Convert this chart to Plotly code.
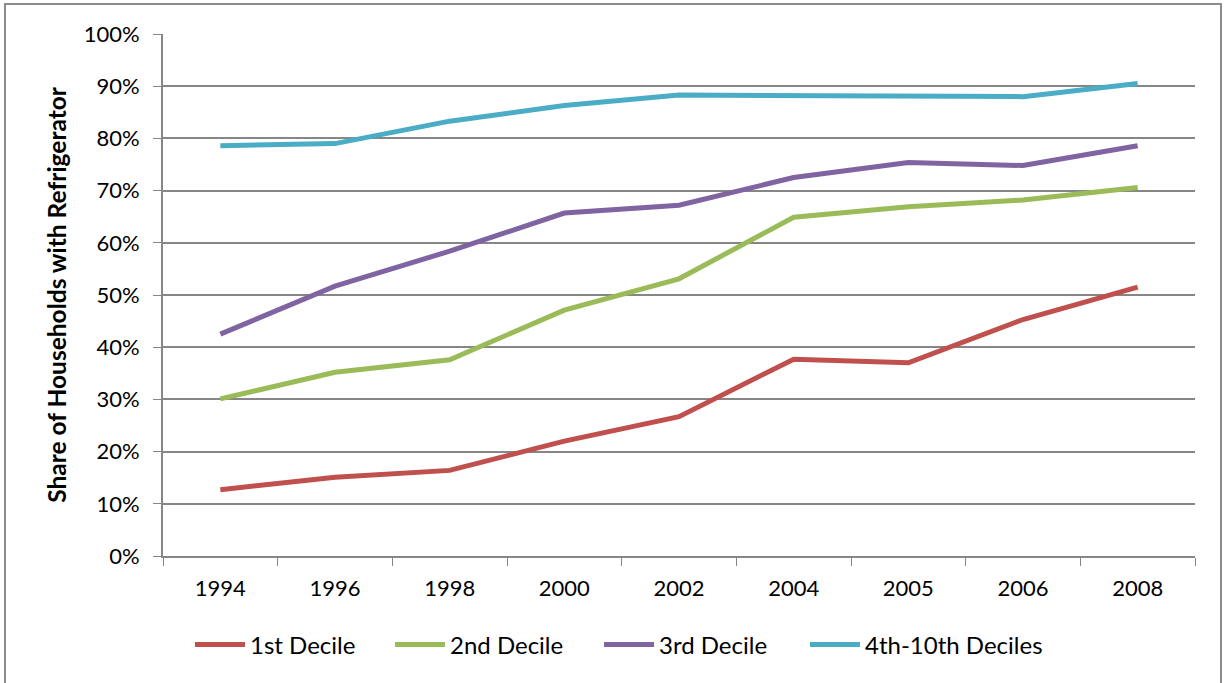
import plotly.graph_objects as go

years = ["1994", "1996", "1998", "2000", "2002", "2004", "2005", "2006", "2008"]
decile1 = [12.7, 15.1, 16.4, 22.0, 26.7, 37.7, 37.0, 45.3, 51.5]
decile2 = [30.1, 35.2, 37.6, 47.1, 53.1, 64.9, 66.9, 68.2, 70.6]
decile3 = [42.5, 51.7, 58.4, 65.7, 67.2, 72.5, 75.4, 74.8, 78.6]
decile4_10 = [78.6, 79.0, 83.3, 86.3, 88.3, 88.2, 88.3, 88.0, 90.5]
series_names = ["1st Decile", "2nd Decile", "3rd Decile", "4th-10th Deciles"]
colors = ["#C0504D", "#9BBB59", "#8064A2", "#4BACC6"]
y_ticks = [0, 10, 20, 30, 40, 50, 60, 70, 80, 90, 100]

W, H = 1225, 683
ml, mr, mt, mb = 163, 30, 34, 127
pw, ph = W - ml - mr, H - mt - mb

def px_x(x):
    return (x - ml) / pw

def px_y(y):
    return (H - mb - y) / ph

legend_ids = ["legend", "legend2", "legend3", "legend4"]
legend_left_px = [190, 390, 599, 805]

fig = go.Figure()
for name, vals, c, lid in zip(series_names, [decile1, decile2, decile3, decile4_10], colors, legend_ids):
    fig.add_trace(go.Scatter(x=years, y=[v / 100 for v in vals], mode="lines", name=name,
                             line=dict(color=c, width=5), legend=lid))

legend_layouts = {}
for lid, lx in zip(legend_ids, legend_left_px):
    legend_layouts[lid] = dict(orientation="h", x=px_x(lx), xanchor="left", y=px_y(645),
                               yanchor="middle", font=dict(size=24), itemwidth=50,
                               bgcolor="rgba(0,0,0,0)")

fig.update_layout(
    width=W, height=H,
    margin=dict(l=ml, r=mr, t=mt, b=mb),
    paper_bgcolor="white", plot_bgcolor="white",
    font=dict(family="Lato, 'Open Sans', sans-serif", size=22, color="#000"),
    showlegend=True,
    xaxis=dict(type="category", range=[-0.5, 8.5], tickson="boundaries", ticks="outside",
               ticklen=8, tickcolor="#868686", showline=True, linecolor="#868686", linewidth=2,
               showgrid=False, tickfont=dict(size=22), ticklabelstandoff=12),
    yaxis=dict(range=[0, 1], tickvals=[v / 100 for v in y_ticks],
               ticktext=[f"{v}%" for v in y_ticks], ticks="outside", ticklen=8,
               tickcolor="#868686", showline=True, linecolor="#868686", linewidth=2,
               showgrid=True, gridcolor="#868686", gridwidth=2, zeroline=False,
               tickfont=dict(size=22), ticklabelstandoff=9,
               title=dict(text="<b>Share of Households with Refrigerator</b>",
                          font=dict(size=24.5), standoff=10)),
    shapes=[dict(type="rect", xref="paper", yref="paper",
                 x0=px_x(5), x1=px_x(1221), y0=px_y(690), y1=px_y(4),
                 line=dict(color="#8c8c8c", width=2), fillcolor="rgba(0,0,0,0)", layer="below")],
    **legend_layouts,
)

fig.write_html("out.html")
